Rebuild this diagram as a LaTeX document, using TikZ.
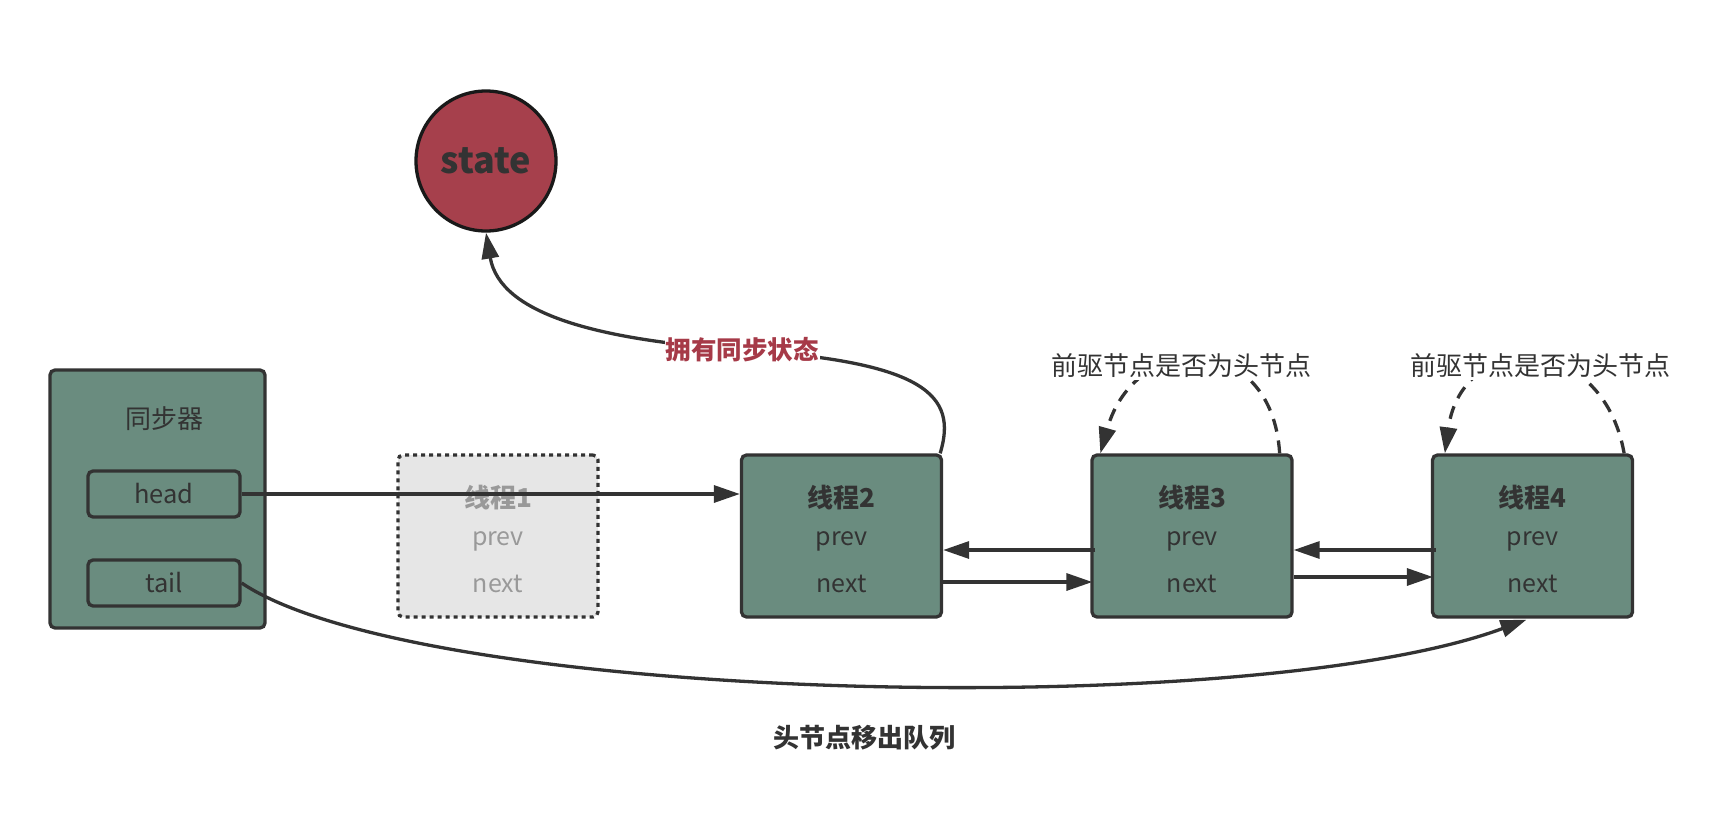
\documentclass[tikz,border=0pt]{standalone}
\usepackage{fontspec}
\setmainfont{Noto Sans CJK SC}
\usetikzlibrary{arrows.meta,calc}
\definecolor{boxgreen}{RGB}{106,140,127}
\definecolor{edge}{RGB}{51,51,51}
\definecolor{statered}{RGB}{166,64,76}
\definecolor{labelred}{RGB}{166,58,72}
\definecolor{ghostfill}{RGB}{230,230,230}
\definecolor{ghosttext}{RGB}{153,153,153}
\tikzset{
  greenbox/.style={draw=edge,line width=3.3pt,fill=boxgreen,rounded corners=5pt,inner sep=0pt},
  threadbox/.style={greenbox,minimum width=200pt,minimum height=162pt},
  ghostbox/.style={draw=edge,line width=3.3pt,dash pattern=on 4pt off 4pt,fill=ghostfill,rounded corners=5pt,inner sep=0pt,minimum width=200pt,minimum height=162pt},
  fieldbox/.style={greenbox,minimum width=152pt,minimum height=46pt,font=\fontsize{25.5}{30}\selectfont,text=edge},
  title/.style={font=\fontsize{26}{30}\selectfont\bfseries,text=edge,inner sep=0pt},
  field/.style={font=\fontsize{25}{30}\selectfont,text=edge,inner sep=0pt},
  conn/.style={draw=edge,line width=3.3pt,-{Triangle[length=26pt,width=17pt]}},
  dconn/.style={draw=edge,line width=3.3pt,dash pattern=on 13pt off 9pt,-{Triangle[length=26pt,width=17pt]}},
  note/.style={font=\fontsize{26}{30}\selectfont,text=edge,fill=white,inner sep=2pt},
}
\begin{document}
\begin{tikzpicture}[x=1pt,y=-1pt]
\useasboundingbox (0,0) rectangle (1710,825);

% synchronizer
\node[greenbox,minimum width=215pt,minimum height=258pt] (sync) at (157.5,499) {};
\node[field,font=\fontsize{26}{30}\selectfont] (synclabel) at (164,419) {同步器};
\node[fieldbox] (head) at (164,494) {head};
\node[fieldbox] (tail) at (164,583) {tail};

% state
\node[circle,draw=black!90,line width=3.3pt,fill=statered,minimum size=140pt,inner sep=0pt,
      font=\fontsize{36}{42}\selectfont\bfseries,text=edge] (state) at (486,161) {state};

% threads
\node[ghostbox] (t1) at (498,536) {};
\node[title,text=ghosttext] (t1t) at (498,498) {线程1};
\node[field,text=ghosttext] (t1p) at (498,541) {prev};
\node[field,text=ghosttext] (t1n) at (498,584) {next};

\node[threadbox] (t2) at (841.5,536) {};
\node[title] (t2t) at (841.5,498) {线程2};
\node[field] (t2p) at (841.5,541) {prev};
\node[field] (t2n) at (841.5,584) {next};

\node[threadbox] (t3) at (1192,536) {};
\node[title] (t3t) at (1192,498) {线程3};
\node[field] (t3p) at (1192,541) {prev};
\node[field] (t3n) at (1192,584) {next};

\node[threadbox] (t4) at (1532.5,536) {};
\node[title] (t4t) at (1532.5,498) {线程4};
\node[field] (t4p) at (1532.5,541) {prev};
\node[field] (t4n) at (1532.5,584) {next};

% head -> thread2
\draw[conn] (head.east) -- (head.east -| t2.west);

% prev / next links
\draw[conn] ($(t3.west)+(5,14)$) -- ($(t2.east)+(0,14)$);
\draw[conn] ($(t2.east)+(0,46)$) -- ($(t3.west)+(2,46)$);
\draw[conn] ($(t4.west)+(5,14)$) -- ($(t3.east)+(0,14)$);
\draw[conn] ($(t3.east)+(0,41)$) -- ($(t4.west)+(2,41)$);

% thread2 -> state
\coordinate (s0) at ($(t2.north east)+(-3,0)$);
\coordinate (lbl) at (742,350);
\draw[conn] (s0) .. controls (958,395) and (925,362) .. (lbl)
  .. controls (600,340) and (500,315) .. (state.south);
\node[font=\fontsize{25.5}{30}\selectfont\bfseries,text=labelred,fill=white,inner sep=1pt] (ownlabel) at (lbl) {拥有同步状态};

% tail -> thread4
\draw[conn] (tail.east) .. controls (420,703) and (1250,722) .. ($(t4.south)+(-6,1)$);
\node[font=\fontsize{26}{30}\selectfont\bfseries,text=edge] (dequeue) at (864,738) {头节点移出队列};

% self checks
\draw[dconn] ($(t3.north east)+(-14,0)$) .. controls (1272,330) and (1135,330) .. ($(t3.north west)+(10,0)$);
\node[note] (n3) at (1181,366) {前驱节点是否为头节点};
\draw[dconn] ($(t4.north east)+(-10,0)$) .. controls (1602,330) and (1462,330) .. ($(t4.north west)+(14,0)$);
\node[note] (n4) at (1540,366) {前驱节点是否为头节点};
\end{tikzpicture}
\end{document}
